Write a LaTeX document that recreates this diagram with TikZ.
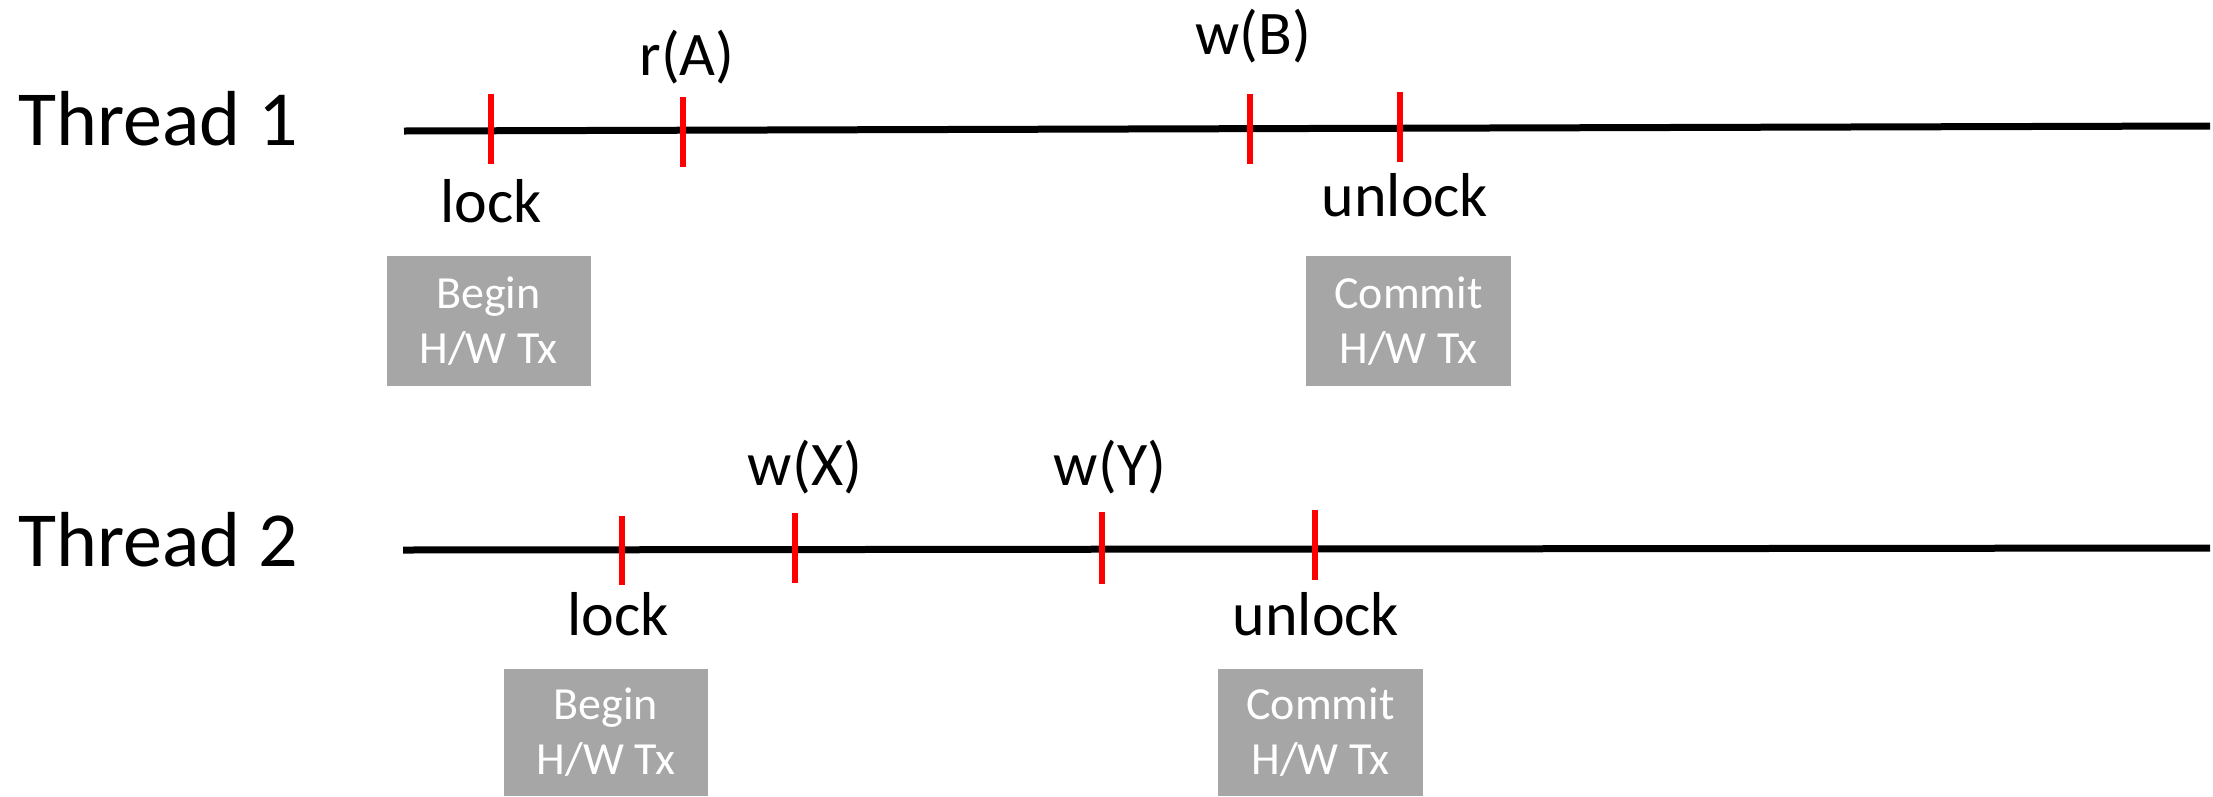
\documentclass[tikz,border=0pt]{standalone}
\usepackage{fontspec}
\setmainfont{Carlito}
\begin{document}
\begin{tikzpicture}[x=1pt,y=-1pt,
  timeline/.style={line width=7pt, black},
  tick/.style={line width=6pt, red},
  thrlabel/.style={anchor=base west, inner sep=0pt, font=\fontsize{78}{94}\selectfont},
  evlabel/.style={anchor=base, inner sep=0pt, font=\fontsize{62}{74}\selectfont},
  txbox/.style={fill=boxgray, draw=none, text=white, align=center, inner sep=0pt,
    font=\fontsize{46}{55}\selectfont},
]
\definecolor{boxgray}{HTML}{A6A6A6}
\useasboundingbox (0,0) rectangle (2213,796);

% Thread labels
\node[thrlabel] (thr1) at (18,145) {Thread 1};
\node[thrlabel] (thr2) at (18,566) {Thread 2};

% Timelines
\coordinate (l1s) at (404,131);
\coordinate (l1e) at (2210,126);
\coordinate (l2s) at (403,550);
\coordinate (l2e) at (2210,548);
\draw[timeline] (l1s) -- (l1e);
\draw[timeline] (l2s) -- (l2e);

% Thread 1 ticks
\coordinate (a1t) at (491,94);  \coordinate (a1b) at (491,164);
\coordinate (b1t) at (683,97);  \coordinate (b1b) at (683,167);
\coordinate (c1t) at (1250,94); \coordinate (c1b) at (1250,164);
\coordinate (d1t) at (1400,92); \coordinate (d1b) at (1400,162);
\draw[tick] (a1t) -- (a1b);
\draw[tick] (b1t) -- (b1b);
\draw[tick] (c1t) -- (c1b);
\draw[tick] (d1t) -- (d1b);

% Thread 2 ticks
\coordinate (a2t) at (622,516);  \coordinate (a2b) at (622,585);
\coordinate (b2t) at (795,513);  \coordinate (b2b) at (795,583);
\coordinate (c2t) at (1102,512); \coordinate (c2b) at (1102,584);
\coordinate (d2t) at (1315,510); \coordinate (d2b) at (1315,580);
\draw[tick] (a2t) -- (a2b);
\draw[tick] (b2t) -- (b2b);
\draw[tick] (c2t) -- (c2b);
\draw[tick] (d2t) -- (d2b);

% Thread 1 labels
\node[evlabel] (lock1) at (491,222) {lock};
\node[evlabel] (ra) at (687,75) {r(A)};
\node[evlabel] (wb) at (1253,54) {w(B)};
\node[evlabel] (unlock1) at (1405,216) {unlock};

% Thread 2 labels
\node[evlabel] (lock2) at (618,635) {lock};
\node[evlabel] (wx) at (805,485) {w(X)};
\node[evlabel] (wy) at (1110,485) {w(Y)};
\node[evlabel] (unlock2) at (1316,635) {unlock};

% Boxes
\node[txbox, minimum width=204pt, minimum height=130pt] (begin1) at (488.5,321) {Begin\\H/W Tx};
\node[txbox, minimum width=205pt, minimum height=130pt] (commit1) at (1408.5,321) {Commit\\H/W Tx};
\node[txbox, minimum width=204pt, minimum height=127pt] (begin2) at (606,732.5) {Begin\\H/W Tx};
\node[txbox, minimum width=205pt, minimum height=127pt] (commit2) at (1320.5,732.5) {Commit\\H/W Tx};
\end{tikzpicture}
\end{document}
